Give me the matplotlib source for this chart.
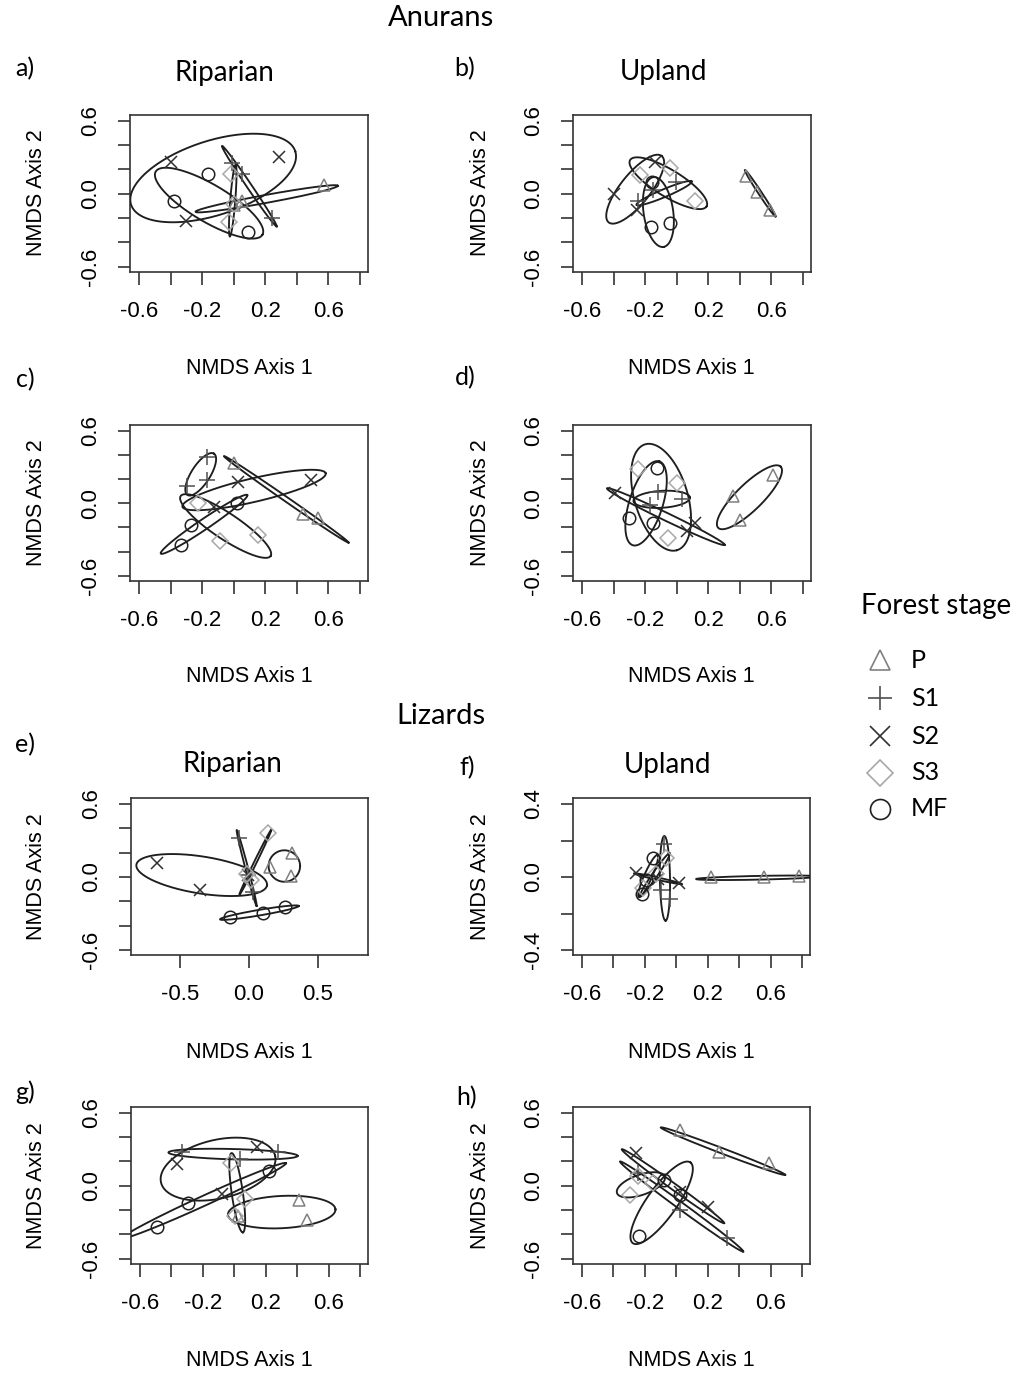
import numpy as np
import matplotlib
matplotlib.use("Agg")
import matplotlib.pyplot as plt

W, H = 1026, 1374

stages = ["P", "S1", "S2", "S3", "MF"]

# NMDS site scores per panel: stage -> (axis 1 values, axis 2 values)
pts_a = {"P": ([0.57, 0.055, 0.00], [0.07, -0.06, -0.09]),
         "S1": ([-0.01, 0.055, 0.245], [0.25, 0.16, -0.20]),
         "S2": ([-0.40, 0.29, -0.30], [0.26, 0.30, -0.22]),
         "S3": ([-0.02, 0.00, -0.03], [0.16, -0.08, -0.23]),
         "MF": ([-0.16, -0.38, 0.09], [0.16, -0.06, -0.31])}
pts_b = {"P": ([0.442, 0.512, 0.59], [0.148, 0.011, -0.131]),
         "S1": ([-0.246, -0.006, -0.147], [-0.063, 0.101, 0.033]),
         "S2": ([-0.40, -0.253, -0.137], [0.0, -0.131, 0.265]),
         "S3": ([-0.232, -0.042, 0.116], [0.156, 0.211, -0.063]),
         "MF": ([-0.158, -0.164, -0.042], [0.093, -0.276, -0.24])}
pts_c = {"P": ([0.002, 0.441, 0.534], [0.33, -0.088, -0.124]),
         "S1": ([-0.171, -0.167, -0.297], [0.385, 0.193, 0.143]),
         "S2": ([0.027, 0.487, -0.124], [0.179, 0.193, -0.028]),
         "S3": ([-0.226, -0.087, 0.154], [0.0, -0.309, -0.262]),
         "MF": ([-0.335, -0.268, 0.023], [-0.345, -0.179, 0.005])}
pts_d = {"P": ([0.611, 0.358, 0.4], [0.234, 0.06, -0.138]),
         "S1": ([-0.12, 0.032, -0.169], [0.096, 0.033, -0.014]),
         "S2": ([-0.39, 0.116, 0.063], [0.088, -0.165, -0.226]),
         "S3": ([-0.246, 0.0, -0.053], [0.281, 0.17, -0.289]),
         "MF": ([-0.126, -0.301, -0.147], [0.289, -0.124, -0.165])}
pts_e = {"P": ([0.309, 0.152, 0.302], [0.195, 0.085, 0.008]),
         "S1": ([-0.07, -0.005, 0.027], [0.318, 0.016, -0.121]),
         "S2": ([-0.669, -0.355, -0.005], [0.118, -0.107, 0.016]),
         "S3": ([0.14, -0.017, 0.014], [0.359, 0.025, -0.025]),
         "MF": ([-0.138, 0.099, 0.261], [-0.332, -0.298, -0.244])}
pts_f = {"P": ([0.221, 0.558, 0.779], [-0.002, -0.002, 0.005]),
         "S1": ([-0.078, -0.095, -0.042], [0.181, -0.071, -0.122]),
         "S2": ([-0.253, -0.116, 0.015], [0.02, -0.013, -0.035]),
         "S3": ([-0.21, -0.126, -0.063], [-0.062, 0.016, 0.102]),
         "MF": ([-0.147, -0.19, -0.217], [0.102, -0.016, -0.093])}
pts_g = {"P": ([0.413, 0.466, 0.023], [-0.115, -0.279, -0.252]),
         "S1": ([-0.335, 0.276, 0.034], [0.279, 0.282, 0.219]),
         "S2": ([-0.367, 0.146, -0.078], [0.181, 0.318, -0.066]),
         "S3": ([-0.019, 0.002, 0.07], [0.186, -0.247, -0.109]),
         "MF": ([-0.494, -0.297, 0.223], [-0.34, -0.142, 0.118])}
pts_h = {"P": ([0.021, 0.274, 0.59], [0.46, 0.282, 0.186]),
         "S1": ([-0.242, 0.021, 0.326], [0.104, -0.197, -0.43]),
         "S2": ([-0.253, 0.021, 0.2], [0.268, -0.047, -0.175]),
         "S3": ([-0.295, -0.242, -0.147], [-0.074, 0.082, 0.027]),
         "MF": ([-0.078, 0.027, -0.238], [0.049, -0.074, -0.411])}

# ordination ellipses: centre x, centre y, major semi-axis vector (x, y), minor/major ratio
ell_a = {"P": (0.209, -0.041, 0.451, 0.107, 0.055),
         "S1": (0.099, 0.063, 0.173, -0.331, 0.05),
         "S2": (-0.13, 0.13, 0.52, 0.22, 0.43),
         "S3": (-0.006, -0.055, -0.018, -0.294, 0.07),
         "MF": (-0.156, -0.077, 0.338, -0.26, 0.30)}
ell_b = {"P": (0.529, 0.005, 0.097, -0.191, 0.06),
         "S1": (-0.08, 0.005, 0.175, 0.096, 0.13),
         "S2": (-0.263, 0.038, 0.168, 0.273, 0.35),
         "S3": (-0.053, 0.087, 0.242, -0.191, 0.3),
         "MF": (-0.116, -0.15, 0.032, -0.287, 0.42)}
ell_c = {"P": (0.333, 0.033, 0.395, -0.358, 0.03),
         "S1": (-0.209, 0.24, 0.084, 0.171, 0.38),
         "S2": (0.129, 0.11, 0.454, 0.138, 0.16),
         "S3": (-0.051, -0.188, 0.285, -0.248, 0.24),
         "MF": (-0.188, -0.174, 0.274, 0.242, 0.1)}
ell_d = {"P": (0.461, 0.05, 0.198, 0.253, 0.3),
         "S1": (-0.095, 0.033, 0.179, 0.014, 0.3),
         "S2": (-0.069, -0.11, 0.373, -0.234, 0.06),
         "S3": (-0.099, 0.05, 0.101, -0.438, 0.48),
         "MF": (-0.194, 0.0, 0.084, 0.347, 0.38)}
ell_e = {"P": (0.256, 0.09, 0.114, 0.0, 1.0),
         "S1": (-0.017, 0.074, 0.072, -0.312, 0.035),
         "S2": (-0.343, 0.016, 0.473, -0.085, 0.28),
         "S3": (0.046, 0.121, 0.116, 0.268, 0.035),
         "MF": (0.075, -0.293, 0.285, 0.055, 0.07)}
ell_f = {"P": (0.52, -0.004, 0.394, 0.007, 0.03),
         "S1": (-0.072, -0.007, 0.004, -0.232, 0.12),
         "S2": (-0.118, -0.009, 0.152, -0.029, 0.05),
         "S3": (-0.137, 0.011, 0.095, 0.119, 0.1),
         "MF": (-0.179, 0.005, 0.059, 0.115, 0.17)}
ell_g = {"P": (0.302, -0.216, 0.342, 0.022, 0.3),
         "S1": (-0.008, 0.26, 0.411, -0.014, 0.08),
         "S2": (-0.103, 0.137, 0.363, 0.11, 0.5),
         "S3": (0.019, -0.057, 0.036, -0.326, 0.14),
         "MF": (-0.19, -0.121, 0.519, 0.307, 0.055)}
ell_h = {"P": (0.297, 0.285, 0.396, -0.195, 0.04),
         "S1": (0.034, -0.17, 0.392, -0.37, 0.045),
         "S2": (-0.021, -0.003, 0.326, -0.304, 0.05),
         "S3": (-0.225, 0.008, 0.152, 0.068, 0.4),
         "MF": (-0.093, -0.14, 0.183, 0.332, 0.3)}

xticks_std = [-0.6, -0.4, -0.2, 0.0, 0.2, 0.4, 0.6, 0.8]
xlabels_std = ["-0.6", "", "-0.2", "", "0.2", "", "0.6", ""]
yticks_std = [-0.6, -0.4, -0.2, 0.0, 0.2, 0.4, 0.6]
ylabels_std = ["-0.6", "", "", "0.0", "", "", "0.6"]
xticks_e = [-0.5, 0.0, 0.5]
xlabels_e = ["-0.5", "0.0", "0.5"]
yticks_f = [-0.4, -0.2, 0.0, 0.2, 0.4]
ylabels_f = ["-0.4", "", "0.0", "", "0.4"]

style = {"P": dict(marker="^", color="#808080", ms=9),
         "S1": dict(marker="+", color="#505050", ms=11),
         "S2": dict(marker="x", color="#303030", ms=9),
         "S3": dict(marker="D", color="#a8a8a8", ms=8),
         "MF": dict(marker="o", color="#202020", ms=9)}

TICKFONT = "Liberation Sans"
HEADFONT = "Lato"

fig = plt.figure(figsize=(W / 100, H / 100), dpi=100)


def add_panel(l, t, r, b):
    return fig.add_axes([l / W, 1 - b / H, (r - l) / W, (b - t) / H])


def draw_ellipse(ax, cx, cy, ux, uy, r):
    T = ax.transData
    c = T.transform((cx, cy))
    u = T.transform((cx + ux, cy + uy)) - c
    v = r * np.array([-u[1], u[0]])
    t = np.linspace(0, 2 * np.pi, 300)
    disp = c + np.outer(np.cos(t), u) + np.outer(np.sin(t), v)
    d = T.inverted().transform(disp)
    ax.plot(d[:, 0], d[:, 1], color="#1e1e1e", lw=1.35, zorder=3)


def nmds_panel(box, pts, ells, xlim, ylim, xt, xl, yt, yl):
    ax = add_panel(*box)
    ax.set_xlim(*xlim)
    ax.set_ylim(*ylim)
    ax.set_xticks(xt)
    ax.set_xticklabels(xl, fontfamily=TICKFONT, fontsize=16)
    ax.set_yticks(yt)
    ax.set_yticklabels(yl, fontfamily=TICKFONT, fontsize=16,
                       rotation=90, va="center")
    ax.tick_params(direction="out", length=9, width=1.2, color="#333333",
                   pad=12)
    for sp in ax.spines.values():
        sp.set_linewidth(1.2)
        sp.set_color("#333333")
    for s in stages:
        xs, ys = pts[s]
        st = style[s]
        ax.plot(xs, ys, ls="none", marker=st["marker"], ms=st["ms"],
                mec=st["color"], mfc="none", mew=1.1, zorder=4)
    for s in stages:
        draw_ellipse(ax, *ells[s])
    return ax


lim_x = (-0.657, 0.851)
lim_y = (-0.643, 0.648)

nmds_panel((130, 115, 368, 272), pts_a, ell_a, lim_x, lim_y,
           xticks_std, xlabels_std, yticks_std, ylabels_std)
nmds_panel((573, 115, 811, 272), pts_b, ell_b, lim_x, lim_y,
           xticks_std, xlabels_std, yticks_std, ylabels_std)
nmds_panel((130, 425, 368, 581), pts_c, ell_c, lim_x, lim_y,
           xticks_std, xlabels_std, yticks_std, ylabels_std)
nmds_panel((573, 425, 811, 581), pts_d, ell_d, lim_x, lim_y,
           xticks_std, xlabels_std, yticks_std, ylabels_std)
nmds_panel((131, 798, 368, 955), pts_e, ell_e, (-0.855, 0.862), (-0.641, 0.649),
           xticks_e, xlabels_e, yticks_std, ylabels_std)
nmds_panel((573, 798, 810, 955), pts_f, ell_f, lim_x, (-0.427, 0.433),
           xticks_std, xlabels_std, yticks_f, ylabels_f)
nmds_panel((131, 1107, 368, 1264), pts_g, ell_g, lim_x, lim_y,
           xticks_std, xlabels_std, yticks_std, ylabels_std)
nmds_panel((573, 1107, 810, 1264), pts_h, ell_h, lim_x, lim_y,
           xticks_std, xlabels_std, yticks_std, ylabels_std)


def ftext(x, y, s, **kw):
    fig.text(x / W, 1 - y / H, s, ha="center", va="center", **kw)


# headings and panel letters
ftext(441, 18, "Anurans", fontfamily=HEADFONT, fontsize=21)
ftext(441, 716, "Lizards", fontfamily=HEADFONT, fontsize=21)
for x, y, s in [(25, 69, "a)"), (465, 69, "b)"), (25, 380, "c)"),
                (465, 378, "d)"), (25, 745, "e)"), (467, 768, "f)"),
                (25, 1092, "g)"), (467, 1098, "h)")]:
    ftext(x, y, s, fontfamily=HEADFONT, fontsize=18)
for x, y, s in [(224, 73, "Riparian"), (664, 72, "Upland"),
                (232, 764, "Riparian"), (667, 765, "Upland")]:
    ftext(x, y, s, fontfamily=HEADFONT, fontsize=20)

# axis titles
for yc, yb in [(193, 369), (503, 677), (877, 1052), (1186, 1360)]:
    for xl, xc in [(37, 249), (480, 691)]:
        ftext(xc, yb, "NMDS Axis 1", fontfamily=TICKFONT, fontsize=15.5)
        ftext(xl, yc, "NMDS Axis 2", fontfamily=TICKFONT, fontsize=15.5,
              rotation=90)

# legend for forest stage
ftext(936, 606, "Forest stage", fontfamily=HEADFONT, fontsize=20)
leg = fig.add_axes([0, 0, 1, 1], facecolor="none")
leg.set_xlim(0, W)
leg.set_ylim(H, 0)
leg.axis("off")
leg_y = [660, 698, 736, 773, 809]
for s, ly in zip(stages, leg_y):
    st = style[s]
    leg.plot([880], [ly], ls="none", marker=st["marker"], ms=st["ms"] * 1.6,
             mec=st["color"], mfc="none", mew=1.2)
    leg.text(911, ly, s, ha="left", va="center", fontfamily=HEADFONT,
             fontsize=18)

fig.savefig("out.png", dpi=100)
